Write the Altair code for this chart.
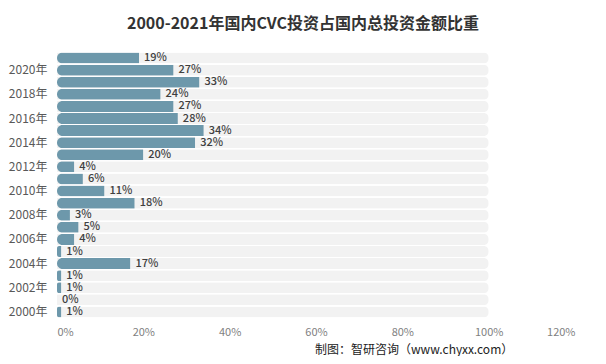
import altair as alt
import pandas as pd

years = [f"{y}年" for y in range(2021, 1999, -1)]
values = [19, 27, 33, 24, 27, 28, 34, 32, 20, 4, 6, 11, 18, 3, 5, 4, 1, 17, 1, 1, 0, 1]
background = [100] * len(years)
shown_labels = [f"{y}年" for y in range(2020, 1999, -2)]
x_ticks = [0, 20, 40, 60, 80, 100, 120]

df = pd.DataFrame({"year": years, "value": values, "bg": background})
df["label"] = df["value"].astype(str) + "%"

FONT = "Noto Sans CJK SC"
GRAY = "#595959"

y_enc = alt.Y(
    "year:N",
    sort=years,
    title=None,
    axis=alt.Axis(
        values=shown_labels,
        domain=False,
        ticks=False,
        labelFont=FONT,
        labelFontSize=12,
        labelColor=GRAY,
        labelPadding=10,
        minExtent=49,
        maxExtent=49,
    ),
    scale=alt.Scale(paddingInner=0.1, paddingOuter=0.05),
)

x_scale = alt.Scale(domain=[0, 120], nice=False)

bg = alt.Chart(df).mark_bar(
    color="#f2f2f2",
    size=11,
    cornerRadiusTopRight=5,
    cornerRadiusBottomRight=5,
).encode(
    x=alt.X(
        "bg:Q",
        scale=x_scale,
        title=None,
        axis=alt.Axis(
            values=x_ticks,
            labelExpr="datum.value + '%'",
            grid=False,
            domain=False,
            ticks=False,
            labelFont=FONT,
            labelFontSize=11,
            labelColor="#7f7f7f",
            labelPadding=8,
        ),
    ),
    y=y_enc,
)

bars = alt.Chart(df).mark_bar(
    color="#6d98ab",
    size=11,
    cornerRadiusTopLeft=5.5,
    cornerRadiusBottomLeft=5.5,
).encode(x=alt.X("value:Q", scale=x_scale), y=y_enc)

text = alt.Chart(df).mark_text(
    align="left",
    baseline="middle",
    dx=5,
    font=FONT,
    fontSize=11,
    fontWeight=500,
    color="#404040",
).encode(x=alt.X("value:Q", scale=x_scale), y=y_enc, text="label:N")

source = alt.Chart(pd.DataFrame({"t": ["制图：智研咨询（www.chyxx.com）"]})).mark_text(
    align="left",
    baseline="middle",
    font=FONT,
    fontSize=12,
    color="#222222",
).encode(x=alt.value(258), y=alt.value(298), text="t:N")

chart = (
    alt.layer(bg, bars, text, source)
    .properties(
        width=518,
        height=266,
        padding={"left": 0, "top": 8, "right": 5, "bottom": 0},
        title=alt.TitleParams(
            "2000-2021年国内CVC投资占国内总投资金额比重",
            font=FONT,
            fontSize=16,
            fontWeight="bold",
            color="#333333",
            anchor="middle",
            frame="group",
            dx=-13,
            offset=20,
        ),
    )
    .configure_view(stroke=None)
)

chart.save("out.html", embed_options={"renderer": "svg", "actions": False})
